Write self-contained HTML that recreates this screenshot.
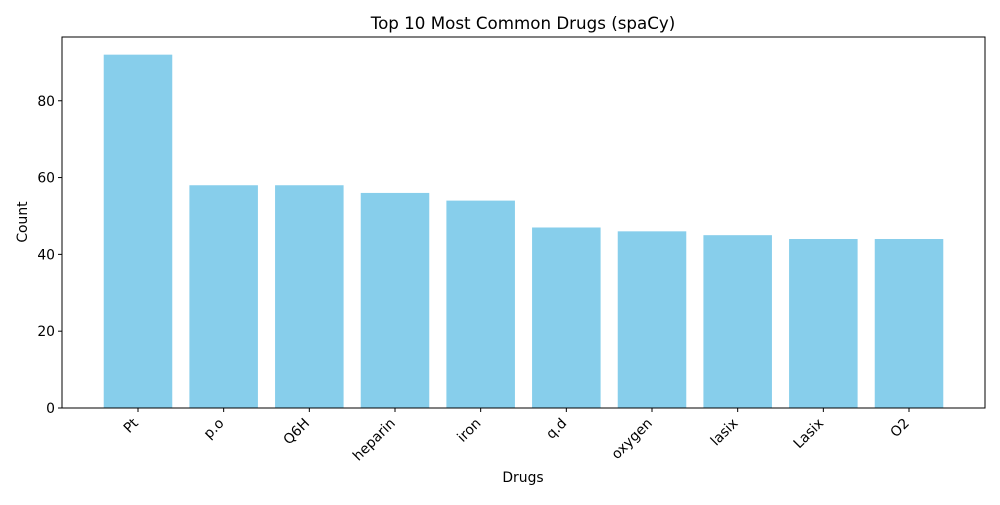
<!DOCTYPE html>
<html><head><meta charset="utf-8"><style>
body{margin:0;background:#fff;}
svg text{font-family:"DejaVu Sans","Liberation Sans",sans-serif;fill:#000;}
</style></head><body>
<svg id="chart" width="1000" height="500" viewBox="0 0 1000 500">
<text x="523" y="29" font-size="16.7" text-anchor="middle">Top 10 Most Common Drugs (spaCy)</text>
<text x="523" y="482" font-size="13.9" text-anchor="middle">Drugs</text>
<text x="27" y="222" font-size="13.9" text-anchor="middle" transform="rotate(-90 27 222)">Count</text>
<g id="bars"></g><g id="xticks"></g><g id="yticks"></g>
<rect x="62" y="37" width="923" height="371" fill="none" stroke="#000" stroke-width="1"/>
</svg>
<script>
const categories=["Pt","p.o","Q6H","heparin","iron","q.d","oxygen","lasix","Lasix","O2"];
const counts=[92,58,58,56,54,47,46,45,44,44];
const yTickValues=[0,20,40,60,80];
const L=62,R=985,T=37,B=408;
const ymax=Math.max(...counts)*1.05;
const n=categories.length;
const xmin=-0.887,xmax=n-1+0.887;
const xs=v=>L+(v-xmin)/(xmax-xmin)*(R-L);
const ys=v=>B-v/ymax*(B-T);
const NS="http://www.w3.org/2000/svg";
const bars=document.getElementById('bars'),xt=document.getElementById('xticks'),yt=document.getElementById('yticks');
categories.forEach((c,i)=>{
  const x0=xs(i-0.4),x1=xs(i+0.4);
  const r=document.createElementNS(NS,'rect');
  r.setAttribute('x',x0);r.setAttribute('width',x1-x0);
  r.setAttribute('y',ys(counts[i]));r.setAttribute('height',B-ys(counts[i]));
  r.setAttribute('fill','#87ceeb');
  
  
  bars.appendChild(r);
  const cx=xs(i);
  const l=document.createElementNS(NS,'line');
  l.setAttribute('x1',cx);l.setAttribute('x2',cx);l.setAttribute('y1',B);l.setAttribute('y2',B+4);l.setAttribute('stroke','#000');
  
  
  xt.appendChild(l);
  const tx=cx+1,ty=B+16;
  const t=document.createElementNS(NS,'text');
  t.setAttribute('x',tx);t.setAttribute('y',ty);t.setAttribute('font-size','13.9');t.setAttribute('text-anchor','end');
  t.setAttribute('transform','rotate(-45 '+tx+' '+ty+')');
  t.textContent=c;
  
  
  xt.appendChild(t);
});
yTickValues.forEach(v=>{
  const y=ys(v);
  const l=document.createElementNS(NS,'line');
  l.setAttribute('x1',L-4);l.setAttribute('x2',L);l.setAttribute('y1',y);l.setAttribute('y2',y);l.setAttribute('stroke','#000');
  
  
  yt.appendChild(l);
  const t=document.createElementNS(NS,'text');
  t.setAttribute('x',L-7);t.setAttribute('y',y+5);t.setAttribute('font-size','13.9');t.setAttribute('text-anchor','end');
  t.textContent=v;
  
  
  yt.appendChild(t);
});
</script>
</body></html>
